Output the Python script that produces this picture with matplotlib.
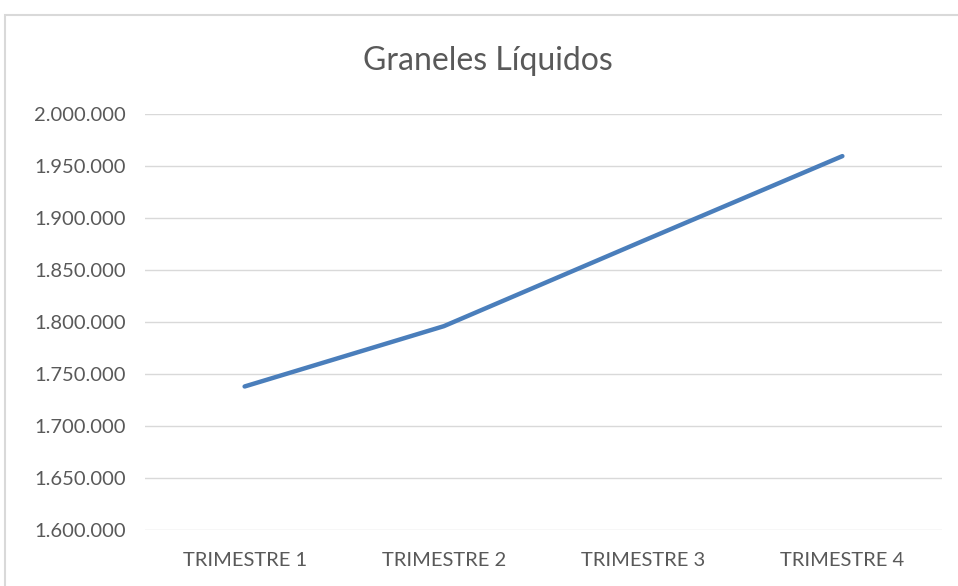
import matplotlib
matplotlib.use("Agg")
import matplotlib.pyplot as plt
from matplotlib.patches import Rectangle
from matplotlib.ticker import FuncFormatter, MultipleLocator

categorias = ["TRIMESTRE 1", "TRIMESTRE 2", "TRIMESTRE 3", "TRIMESTRE 4"]
valores = [1738000, 1796000, 1878000, 1959500]
titulo = "Graneles Líquidos"

W, H = 958, 586
fig = plt.figure(figsize=(W / 100, H / 100), dpi=100)
plt.rcParams['font.family'] = ['Lato', 'DejaVu Sans']

# marco gris del grafico (solo arriba e izquierda visibles)
fig.patches.append(Rectangle((5 / W, -0.1), 1.2, 1 - 15 / H + 0.1, transform=fig.transFigure,
                             fill=False, edgecolor="#d9d9d9", linewidth=1.5))

ax = fig.add_axes([145 / W, 1 - 530 / H, (942 - 145) / W, (530 - 114) / H])
x = range(len(categorias))
ax.plot(x, valores, color="#4a7ebb", linewidth=3.2, solid_capstyle="round")

ax.set_xlim(-0.5, len(categorias) - 0.5)
ax.set_ylim(1600000, 2000000)
ax.yaxis.set_major_locator(MultipleLocator(50000))
ax.yaxis.set_major_formatter(FuncFormatter(lambda v, p: f"{v:,.0f}".replace(",", ".")))
ax.set_xticks(list(x))
ax.set_xticklabels(categorias)

ax.grid(axis="y", color="#d9d9d9", linewidth=1)
ax.set_axisbelow(True)
for s in ax.spines.values():
    s.set_visible(False)
ax.tick_params(axis="y", length=0, pad=14, labelsize=14.5, labelcolor="#595959")
ax.tick_params(axis="x", length=0, pad=16, labelsize=14.5, labelcolor="#595959")

fig.text(488 / W, 1 - 61 / H, titulo, ha="center", va="center", fontsize=23, color="#595959")

fig.savefig("out.png", dpi=100)
